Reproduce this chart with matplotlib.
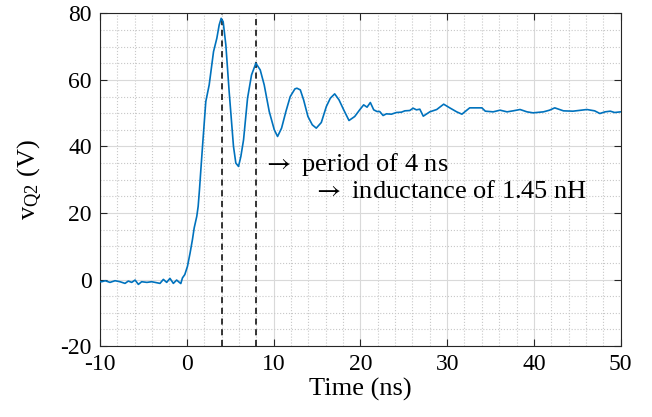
import matplotlib
matplotlib.use("Agg")
import matplotlib.pyplot as plt
from matplotlib.ticker import MultipleLocator

# trace values
time_ns = [-10.0, -9.8, -9.4, -8.85, -8.27, -7.7, -7.12, -6.74, -6.35, -5.96,
           -5.58, -5.2, -4.6, -4.05, -3.47, -3.09, -2.7, -2.32, -1.94, -1.55,
           -1.17, -0.88, -0.69, -0.5, -0.23, 0.08, 0.38, 0.65, 0.85, 1.15,
           1.31, 1.46, 1.62, 1.81, 2.19, 2.58, 3.08, 3.46, 3.73, 3.96,
           4.19, 4.5, 4.88, 5.38, 5.65, 5.96, 6.23, 6.54, 7.0, 7.46,
           7.96, 8.46, 8.92, 9.5, 10.08, 10.46, 10.92, 11.42, 11.92, 12.46,
           12.69, 13.08, 13.46, 13.96, 14.46, 14.92, 15.5, 16.08, 16.54, 17.04,
           17.54, 18.08, 18.69, 19.35, 19.92, 20.38, 20.77, 21.15, 21.54, 21.92,
           22.23, 22.62, 23.0, 23.58, 24.15, 24.73, 25.12, 25.69, 26.08, 26.46,
           26.85, 27.25, 28.0, 28.8, 29.6, 30.3, 31.1, 31.7, 32.6, 34.0,
           34.4, 35.3, 36.1, 36.9, 37.6, 38.4, 39.2, 39.9, 41.1, 41.8,
           42.4, 43.4, 44.5, 46.1, 47.0, 47.6, 48.2, 48.8, 49.3, 50.0]
v_q2 = [-0.6, -0.65, -0.35, -0.85, -0.35, -0.65, -1.15, -0.45, -0.85, -0.15,
        -1.45, -0.65, -0.85, -0.65, -0.95, -1.15, 0.05, -0.85, 0.35, -1.15,
        -0.15, -0.8, -1.2, 0.5, 1.5, 4.0, 8.0, 12.0, 15.5, 19.0,
        22.0, 27.0, 33.0, 40.0, 53.5, 58.5, 68.5, 72.5, 76.5, 78.5,
        77.5, 70.5, 56.5, 40.0, 35.0, 34.0, 37.0, 42.0, 54.5, 61.5,
        65.0, 63.0, 58.5, 50.5, 45.0, 43.0, 45.5, 50.5, 55.0, 57.3,
        57.5, 57.0, 54.0, 49.0, 46.5, 45.5, 47.2, 52.0, 54.5, 55.8,
        54.0, 51.0, 47.8, 49.0, 51.0, 52.5, 51.8, 53.2, 51.0, 50.5,
        50.5, 49.3, 49.8, 49.7, 50.2, 50.3, 50.7, 50.8, 51.5, 51.0,
        51.2, 49.1, 50.4, 51.1, 52.7, 51.6, 50.4, 49.7, 51.6, 51.6,
        50.6, 50.4, 50.9, 50.4, 50.7, 51.1, 50.4, 50.1, 50.4, 50.9,
        51.6, 50.7, 50.6, 51.1, 50.7, 49.9, 50.4, 50.6, 50.2, 50.4]

marker_times = [4, 8]
notes = [r"$\rightarrow$ period of 4 ns", r"$\rightarrow$ inductance of 1.45 nH"]
note_pos = [(8.75, 34.5), (14.6, 26.3)]

plt.rcParams['font.family'] = ['Liberation Serif', 'DejaVu Serif']
plt.rcParams['mathtext.fontset'] = 'stix'
plt.rcParams['axes.unicode_minus'] = False

fig = plt.figure(figsize=(6.52, 4.17), dpi=100)
ax = fig.add_axes([0.1534, 0.170, 0.7986, 0.798])

ax.plot(time_ns, v_q2, color=(0, 0.447, 0.741), linewidth=1.2, zorder=3)
for t in marker_times:
    ax.axvline(t, color='k', linestyle=(0, (4, 3)), linewidth=1.1, zorder=2)

for txt, (tx, ty) in zip(notes, note_pos):
    ax.text(tx, ty, txt, fontsize=19, va='center', ha='left')

ax.set_xlim(-10, 50)
ax.set_ylim(-20, 80)
ax.xaxis.set_major_locator(MultipleLocator(10))
ax.xaxis.set_minor_locator(MultipleLocator(2))
ax.yaxis.set_major_locator(MultipleLocator(20))
ax.yaxis.set_minor_locator(MultipleLocator(5))

ax.grid(True, which='major', color='#d9d9d9', linewidth=0.8, linestyle='-')
ax.grid(True, which='minor', color='#c8c8c8', linewidth=0.8, linestyle=':')
ax.set_axisbelow(True)

ax.tick_params(which='major', direction='in', length=5, width=0.8,
               top=True, right=True, labelsize=17, color='#262626', pad=6)
ax.tick_params(which='minor', length=0)
for s in ax.spines.values():
    s.set_color('#262626')
    s.set_linewidth(0.8)

ax.set_xlabel("Time (ns)", fontsize=19, labelpad=2)
ax.set_ylabel(r"v$_{\mathregular{Q2}}$ (V)", fontsize=19, labelpad=12)

fig.savefig("out.png", dpi=100)
